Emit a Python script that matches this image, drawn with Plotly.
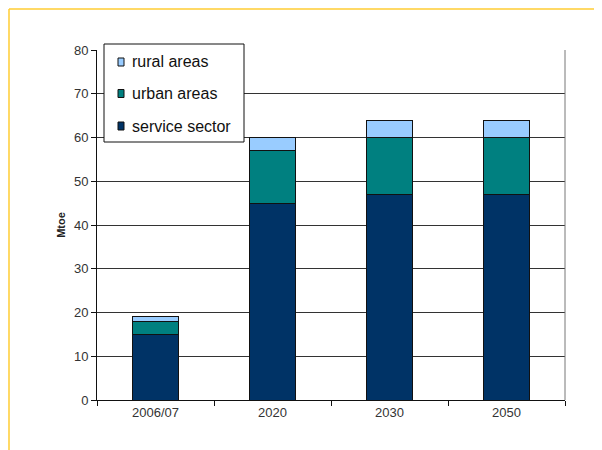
import plotly.graph_objects as go

categories = ["2006/07", "2020", "2030", "2050"]
service_sector = [15, 45, 47, 47]
urban_areas = [3, 12, 13, 13]
rural_areas = [1, 3, 4, 4]
y_ticks = [0, 10, 20, 30, 40, 50, 60, 70, 80]

series = [
    ("service sector", service_sector, "#003366"),
    ("urban areas", urban_areas, "#008080"),
    ("rural areas", rural_areas, "#99CCFF"),
]

FONT = "Liberation Sans, Arial, sans-serif"
W, H = 602, 450
L, T = 89, 42
pw, ph = 468, 350
R, B = W - L - pw, H - T - ph

def px(x):
    return (x - L) / pw

def py(y):
    return (T + ph - y) / ph

fig = go.Figure()
for name, vals, col in series:
    fig.add_trace(go.Bar(
        x=categories, y=vals, name=name, showlegend=False,
        marker=dict(color=col, line=dict(color="#111111", width=1)),
    ))

shapes = [
    dict(type="line", xref="paper", yref="paper", x0=1, x1=1, y0=0, y1=1,
         line=dict(color="#777777", width=1)),
    dict(type="line", xref="paper", yref="paper",
         x0=px(1), x1=px(W + 20), y0=py(1), y1=py(1),
         line=dict(color="#FFCC33", width=1.5)),
    dict(type="line", xref="paper", yref="paper",
         x0=px(1), x1=px(1), y0=py(1), y1=py(H + 20),
         line=dict(color="#FFCC33", width=1.5)),
    # legend box
    dict(type="rect", xref="paper", yref="paper",
         x0=px(96), x1=px(236), y0=py(134), y1=py(36),
         fillcolor="white", line=dict(color="#111111", width=1), layer="above"),
]
annotations = []
legend_rows = [series[2], series[1], series[0]]
row_y = [54, 85.5, 118]
for (name, _, col), yc in zip(legend_rows, row_y):
    shapes.append(dict(type="rect", xref="paper", yref="paper",
                       x0=px(110), x1=px(116), y0=py(yc + 4), y1=py(yc - 4),
                       fillcolor=col, line=dict(color="#111111", width=1), layer="above"))
    annotations.append(dict(xref="paper", yref="paper", x=px(122), y=py(yc),
                            xanchor="left", yanchor="middle", showarrow=False,
                            text=name, font=dict(size=16, family=FONT, color="#111111")))

fig.update_layout(
    width=W, height=H,
    margin=dict(l=L, r=R, t=T, b=B),
    barmode="stack", bargap=0.615,
    paper_bgcolor="white", plot_bgcolor="white",
    font=dict(family=FONT, color="#222222"),
    showlegend=False,
    xaxis=dict(
        showline=True, linecolor="#111111", linewidth=1,
        ticks="outside", tickson="boundaries", ticklen=5, tickcolor="#111111",
        tickfont=dict(size=13, color="#333333"), showgrid=False,
    ),
    yaxis=dict(
        range=[0, 80], tickvals=y_ticks, showline=True, linecolor="#111111", linewidth=1,
        ticks="outside", ticklen=5, tickcolor="#111111",
        showgrid=True, gridcolor="#333333", gridwidth=1,
        tickfont=dict(size=13, color="#333333"),
        title=dict(text="<b>Mtoe</b>", font=dict(size=11, color="#222222"), standoff=6),
        zeroline=False,
    ),
    shapes=shapes,
    annotations=annotations,
)

fig.write_html("out.html")
